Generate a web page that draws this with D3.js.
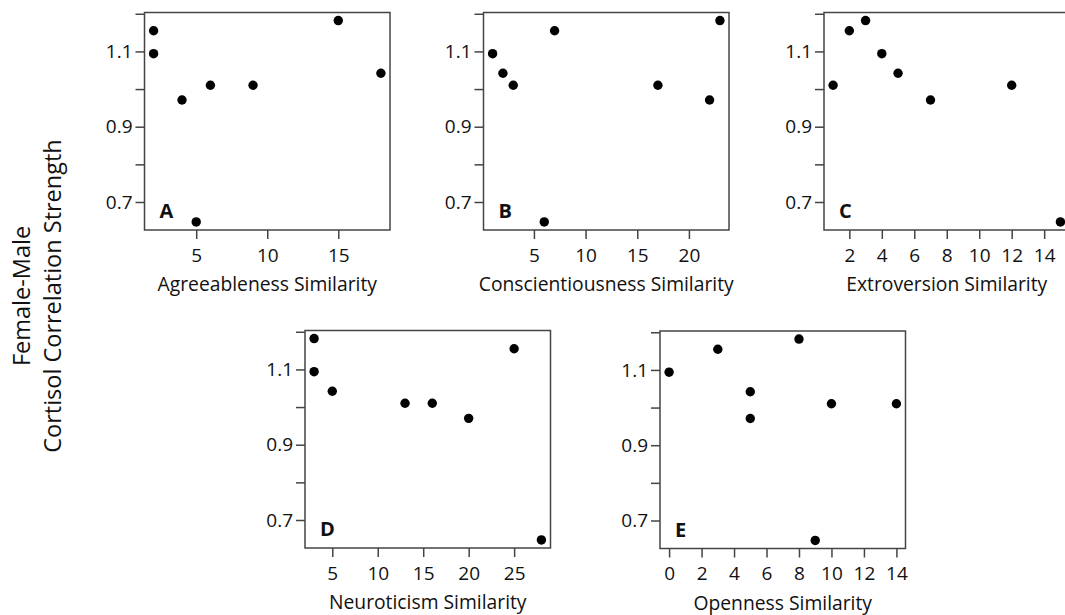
<!DOCTYPE html>
<html>
<head>
<meta charset="utf-8">
<script src="https://cdn.jsdelivr.net/npm/d3@7"></script>
<style>
  html, body { margin: 0; padding: 0; background: #fff; overflow: hidden; }
  svg { display: block; }
  text { font-family: "Open Sans", "DejaVu Sans", sans-serif; fill: #111; }
</style>
</head>
<body>
<svg id="chart" width="1065" height="615"></svg>
<script>
// Similarity scores (x) and female-male cortisol correlation strength (y) per trait
const agreeX = [2, 2, 4, 5, 6, 9, 15, 18];
const agreeY = [1.155, 1.094, 0.971, 0.647, 1.010, 1.010, 1.182, 1.042];

const conscX = [1, 2, 3, 6, 7, 17, 22, 23];
const conscY = [1.094, 1.042, 1.010, 0.647, 1.155, 1.010, 0.971, 1.182];

const extroX = [1, 2, 3, 4, 5, 7, 12, 15];
const extroY = [1.010, 1.155, 1.182, 1.094, 1.042, 0.971, 1.010, 0.647];

const neuroX = [3, 3, 5, 13, 16, 20, 25, 28];
const neuroY = [1.182, 1.094, 1.042, 1.010, 1.010, 0.970, 1.155, 0.647];

const openX = [0, 3, 5, 5, 8, 9, 10, 14];
const openY = [1.094, 1.155, 1.042, 0.971, 1.182, 0.647, 1.010, 1.010];

// Axis ticks
const agreeTicks = [5, 10, 15];
const conscTicks = [5, 10, 15, 20];
const extroTicks = [2, 4, 6, 8, 10, 12, 14];
const neuroTicks = [5, 10, 15, 20, 25];
const openTicks = [0, 2, 4, 6, 8, 10, 12, 14];
const yTicks = [0.7, 0.8, 0.9, 1.0, 1.1, 1.2];
const yTickLabels = ["0.7", "", "0.9", "", "1.1", ""];

const panelLetters = ["A", "B", "C", "D", "E"];
const xTitles = ["Agreeableness Similarity", "Conscientiousness Similarity",
                 "Extroversion Similarity", "Neuroticism Similarity", "Openness Similarity"];
const yTitleLines = ["Female-Male", "Cortisol Correlation Strength"];

const panels = [
  { xs: agreeX, ys: agreeY, ticks: agreeTicks, left: 144.5, top: 12.5 },
  { xs: conscX, ys: conscY, ticks: conscTicks, left: 483.5, top: 12.5 },
  { xs: extroX, ys: extroY, ticks: extroTicks, left: 824, top: 12.5 },
  { xs: neuroX, ys: neuroY, ticks: neuroTicks, left: 305, top: 330.5 },
  { xs: openX, ys: openY, ticks: openTicks, left: 660, top: 331 }
];

const W = 245.5, H = 217.5;
const axisColor = "#444";
const tickLen = 9;
const tickFont = "19px";

// Pad a data range by 4% on each side
function padded(values) {
  const [lo, hi] = d3.extent(values);
  const p = (hi - lo) * 0.04;
  return [lo - p, hi + p];
}

const allY = [].concat(agreeY, conscY, extroY, neuroY, openY);
const yDomain = padded(allY);

const svg = d3.select("#chart");

panels.forEach((pn, i) => {
  const g = svg.append("g").attr("transform", `translate(${pn.left},${pn.top})`);
  const x = d3.scaleLinear().domain(padded(pn.xs)).range([0, W]);
  const y = d3.scaleLinear().domain(yDomain).range([H, 0]);

  // Left axis
  const yAxis = d3.axisLeft(y).tickValues(yTicks)
    .tickFormat((d, k) => yTickLabels[k]).tickSize(tickLen).tickPadding(3);
  const ya = g.append("g").call(yAxis);
  ya.select(".domain").remove();
  ya.selectAll("line").attr("stroke", axisColor).attr("stroke-width", 1.5);
  ya.selectAll("text").style("font-size", tickFont).attr("fill", "#111")
    .style("font-family", '"Open Sans", sans-serif');

  // Bottom axis
  const xAxis = d3.axisBottom(x).tickValues(pn.ticks).tickSize(tickLen).tickPadding(9.5);
  const xa = g.append("g").attr("transform", `translate(0,${H})`).call(xAxis);
  xa.select(".domain").remove();
  xa.selectAll("line").attr("stroke", axisColor).attr("stroke-width", 1.5);
  xa.selectAll("text").style("font-size", tickFont).attr("fill", "#111")
    .style("font-family", '"Open Sans", sans-serif');

  // Frame
  g.append("rect").attr("x", 0).attr("y", 0).attr("width", W).attr("height", H)
    .attr("fill", "none").attr("stroke", axisColor).attr("stroke-width", 1.5);

  // Points
  g.selectAll("circle").data(pn.xs.map((v, k) => [v, pn.ys[k]])).join("circle")
    .attr("cx", d => x(d[0])).attr("cy", d => y(d[1])).attr("r", 4.7)
    .attr("fill", "#000");

  // Panel letter
  g.append("text").attr("x", 15).attr("y", H - 12)
    .style("font-size", "20px").style("font-weight", "bold").text(panelLetters[i]);

  // Axis title
  g.append("text").attr("x", W / 2).attr("y", H + 61).attr("text-anchor", "middle")
    .style("font-size", "19.3px").text(xTitles[i]);
});

// Shared y title
const yt = svg.append("text").attr("transform", "translate(0,296) rotate(-90)")
  .attr("text-anchor", "middle").style("font-size", "23.5px");
yt.append("tspan").attr("x", 0).attr("y", 30).text(yTitleLines[0]);
yt.append("tspan").attr("x", 0).attr("y", 61).text(yTitleLines[1]);
</script>
</body>
</html>
